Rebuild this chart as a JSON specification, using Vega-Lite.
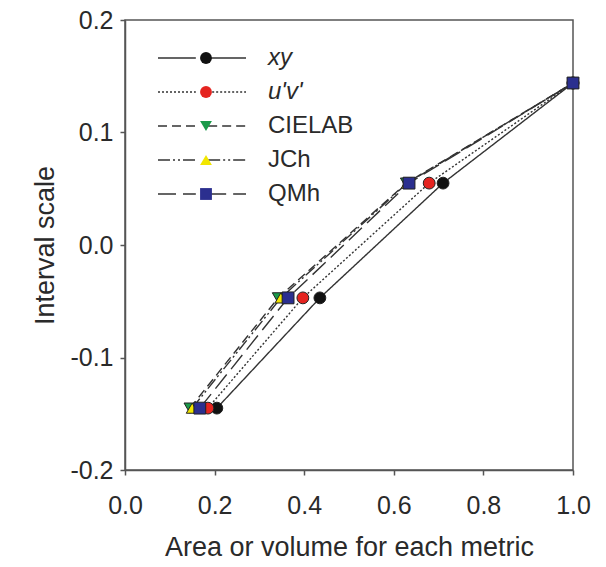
{
  "$schema": "https://vega.github.io/schema/vega-lite/v6.json",
  "width": 448,
  "height": 450,
  "autosize": {"type": "none"},
  "padding": {"left": 125, "top": 20, "right": 33, "bottom": 97},
  "background": "white",
  "config": {
    "view": {"stroke": "#555", "strokeWidth": 1.5},
    "font": "Liberation Sans",
    "axis": {
      "grid": false,
      "domainColor": "#555",
      "domainWidth": 1.5,
      "tickColor": "#555",
      "tickWidth": 1.5,
      "tickSize": 5,
      "labelFont": "Liberation Sans",
      "labelFontSize": 25,
      "labelColor": "#2a2a2a",
      "titleFont": "Liberation Sans",
      "titleFontSize": 27,
      "titleFontWeight": "normal",
      "titleColor": "#2a2a2a"
    }
  },
  "data": {
    "values": [
      {"metric": "xy", "x": 0.205, "y": -0.145},
      {"metric": "xy", "x": 0.435, "y": -0.047},
      {"metric": "xy", "x": 0.710, "y": 0.055},
      {"metric": "xy", "x": 1.0, "y": 0.144},
      {"metric": "u'v'", "x": 0.185, "y": -0.145},
      {"metric": "u'v'", "x": 0.397, "y": -0.047},
      {"metric": "u'v'", "x": 0.679, "y": 0.055},
      {"metric": "u'v'", "x": 1.0, "y": 0.144},
      {"metric": "CIELAB", "x": 0.145, "y": -0.145},
      {"metric": "CIELAB", "x": 0.342, "y": -0.047},
      {"metric": "CIELAB", "x": 0.628, "y": 0.055},
      {"metric": "CIELAB", "x": 1.0, "y": 0.144},
      {"metric": "JCh", "x": 0.150, "y": -0.145},
      {"metric": "JCh", "x": 0.348, "y": -0.047},
      {"metric": "JCh", "x": 0.630, "y": 0.055},
      {"metric": "JCh", "x": 1.0, "y": 0.144},
      {"metric": "QMh", "x": 0.167, "y": -0.145},
      {"metric": "QMh", "x": 0.364, "y": -0.047},
      {"metric": "QMh", "x": 0.634, "y": 0.055},
      {"metric": "QMh", "x": 1.0, "y": 0.144}
    ]
  },
  "encoding": {
    "x": {
      "field": "x", "type": "quantitative",
      "scale": {"domain": [0, 1], "nice": false, "zero": false},
      "axis": {
        "title": "Area or volume for each metric",
        "values": [0, 0.2, 0.4, 0.6, 0.8, 1.0],
        "format": ".1f",
        "labelPadding": 18,
        "titlePadding": 16,
        "labelFlush": false
      }
    },
    "y": {
      "field": "y", "type": "quantitative",
      "scale": {"domain": [-0.2, 0.2], "nice": false, "zero": false},
      "axis": {
        "title": "Interval scale",
        "values": [-0.2, -0.1, 0, 0.1, 0.2],
        "format": ".1f",
        "labelExpr": "replace(datum.label, '\u2212', '-')",
        "labelPadding": 7,
        "titlePadding": 10,
        "labelFlush": false
      }
    }
  },
  "layer": [
    {
      "mark": {"type": "line", "stroke": "#333", "strokeWidth": 1.4},
      "encoding": {
        "strokeDash": {
          "field": "metric", "type": "nominal",
          "sort": ["xy", "u'v'", "CIELAB", "JCh", "QMh"],
          "scale": {
            "range": [[1, 0], [2, 2], [9, 5], [12, 3, 2, 3, 2, 3], [18, 7]]
          },
          "legend": {
            "title": null,
            "orient": "none",
            "legendX": 32,
            "legendY": 28,
            "padding": 0,
            "symbolType": "M-1,0H-0.14M0.14,0H1",
            "symbolSize": 7744,
            "symbolStrokeColor": "#333",
            "symbolStrokeWidth": 1.4,
            "symbolFillColor": "transparent",
            "clipHeight": 20,
            "rowPadding": 10,
            "labelOffset": 21,
            "labelFont": "Liberation Sans",
            "labelFontSize": 24,
            "labelColor": "#2a2a2a",
            "encode": {
              "labels": {
                "update": {
                  "fontStyle": {"signal": "datum.label == 'xy' || slice(datum.label, 0, 1) == 'u' ? 'italic' : 'normal'"}
                }
              }
            }
          }
        },
        "order": {"field": "x", "type": "quantitative"}
      }
    },
    {
      "mark": {"type": "point", "filled": true, "stroke": "#222", "strokeWidth": 1, "size": 140, "opacity": 1},
      "encoding": {
        "shape": {
          "field": "metric", "type": "nominal",
          "scale": {
            "domain": ["xy", "u'v'", "CIELAB", "JCh", "QMh"],
            "range": ["circle", "circle", "triangle-down", "triangle-up", "square"]
          },
          "legend": {
            "title": null,
            "orient": "none",
            "legendX": 69,
            "legendY": 28,
            "padding": 0,
            "symbolSize": 140,
            "symbolStrokeColor": "#222",
            "symbolStrokeWidth": 1,
            "symbolOpacity": 1,
            "clipHeight": 20,
            "rowPadding": 10,
            "labelExpr": "''",
            "labelFontSize": 24
          }
        },
        "fill": {
          "field": "metric", "type": "nominal",
          "scale": {
            "domain": ["xy", "u'v'", "CIELAB", "JCh", "QMh"],
            "range": ["#111111", "#e52420", "#1a9a4a", "#f2e600", "#2b2f8f"]
          },
          "legend": {
            "title": null,
            "orient": "none",
            "legendX": 69,
            "legendY": 28,
            "padding": 0,
            "symbolSize": 140,
            "symbolStrokeColor": "#222",
            "symbolStrokeWidth": 1,
            "symbolOpacity": 1,
            "clipHeight": 20,
            "rowPadding": 10,
            "labelExpr": "''",
            "labelFontSize": 24
          }
        }
      }
    }
  ]
}
